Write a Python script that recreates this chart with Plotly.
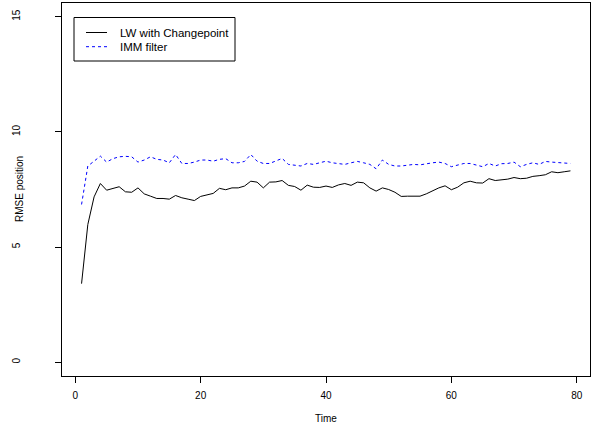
import plotly.graph_objects as go

time = list(range(1, 80))

lw_changepoint = [
    3.41, 5.98, 7.18, 7.76, 7.47, 7.53, 7.62, 7.40, 7.38, 7.57,
    7.31, 7.21, 7.11, 7.11, 7.08, 7.24, 7.14, 7.08, 7.02, 7.20,
    7.27, 7.33, 7.55, 7.49, 7.57, 7.57, 7.65, 7.86, 7.82, 7.57,
    7.82, 7.83, 7.89, 7.68, 7.63, 7.47, 7.69, 7.60, 7.59, 7.65,
    7.59, 7.70, 7.76, 7.68, 7.82, 7.79, 7.57, 7.43, 7.57, 7.50,
    7.38, 7.20, 7.21, 7.21, 7.21, 7.31, 7.44, 7.57, 7.66, 7.49,
    7.60, 7.79, 7.86, 7.79, 7.78, 7.97, 7.89, 7.92, 7.95, 8.02,
    7.97, 7.99, 8.07, 8.10, 8.14, 8.27, 8.23, 8.27, 8.31,
]

imm_filter = [
    6.85, 8.52, 8.73, 8.95, 8.69, 8.84, 8.92, 8.94, 8.92, 8.69,
    8.78, 8.92, 8.81, 8.78, 8.66, 9.02, 8.63, 8.63, 8.69, 8.78,
    8.78, 8.73, 8.81, 8.84, 8.66, 8.66, 8.72, 9.02, 8.73, 8.63,
    8.63, 8.73, 8.85, 8.59, 8.55, 8.52, 8.63, 8.59, 8.66, 8.73,
    8.66, 8.63, 8.59, 8.66, 8.72, 8.66, 8.59, 8.40, 8.78, 8.59,
    8.52, 8.52, 8.56, 8.59, 8.57, 8.63, 8.66, 8.69, 8.63, 8.49,
    8.55, 8.63, 8.63, 8.55, 8.49, 8.63, 8.52, 8.62, 8.63, 8.69,
    8.49, 8.59, 8.66, 8.59, 8.72, 8.69, 8.66, 8.63, 8.63,
]

x_ticks = [0, 20, 40, 60, 80]
y_ticks = [0, 5, 10, 15]
series_names = ["LW with Changepoint", "IMM filter"]
series_colors = ["black", "#0000ff"]
series_dash = ["solid", "3px,3px"]

FONT = "Liberation Sans, Arial, Helvetica, sans-serif"

W, H = 593, 425
ML, MR, MT, MB = 62, 3, 3, 49
PW, PH = W - ML - MR, H - MT - MB


def px_x(px):
    return (px - ML) / PW


def px_y(py):
    return (H - MB - py) / PH


fig = go.Figure()
for vals, name, col, dash in zip([lw_changepoint, imm_filter], series_names,
                                 series_colors, series_dash):
    fig.add_trace(go.Scatter(
        x=time, y=vals, mode="lines", name=name,
        line=dict(color=col, width=1, dash=dash),
    ))

axis_common = dict(
    showline=True, linecolor="black", linewidth=1, mirror=True,
    ticks="outside", ticklen=6, tickcolor="black", tickwidth=1,
    showgrid=False, zeroline=False,
    tickfont=dict(family=FONT, size=10, color="black"),
)

# legend box (drawn like R's legend)
shapes = [dict(type="rect", xref="paper", yref="paper",
               x0=px_x(74), x1=px_x(235), y0=px_y(61), y1=px_y(17.5),
               line=dict(color="black", width=1), fillcolor="white", layer="above")]
annotations = []
row_y = [32.5, 46.7]
for ry, name, col, dash in zip(row_y, series_names, series_colors, series_dash):
    shapes.append(dict(type="line", xref="paper", yref="paper",
                       x0=px_x(86), x1=px_x(107), y0=px_y(ry), y1=px_y(ry),
                       line=dict(color=col, width=1, dash=dash), layer="above"))
    annotations.append(dict(xref="paper", yref="paper", x=px_x(118), y=px_y(ry),
                            xanchor="left", yanchor="middle", showarrow=False,
                            text=name, font=dict(family=FONT, size=11.5, color="black")))

# axis titles
annotations.append(dict(xref="paper", yref="paper", x=0.5, y=px_y(418),
                        xanchor="center", yanchor="middle", showarrow=False,
                        text="Time", font=dict(family=FONT, size=10, color="black")))
annotations.append(dict(xref="paper", yref="paper", x=px_x(19.5), y=0.5,
                        xanchor="center", yanchor="middle", showarrow=False, textangle=-90,
                        text="RMSE position", font=dict(family=FONT, size=10, color="black")))

fig.update_layout(
    width=W, height=H,
    margin=dict(l=ML, r=MR, t=MT, b=MB),
    paper_bgcolor="white", plot_bgcolor="white",
    font=dict(family=FONT, color="black"),
    showlegend=False,
    shapes=shapes,
    annotations=annotations,
    xaxis=dict(range=[-2.12, 82.12], tickvals=x_ticks, ticklabelstandoff=4,
               **axis_common),
    yaxis=dict(range=[-0.6, 15.6], tickvals=y_ticks, tickangle=-90,
               ticklabelstandoff=31, **axis_common),
)

fig.write_html("out.html", config={"displayModeBar": False},
               post_script="document.body.style.margin='0';")
